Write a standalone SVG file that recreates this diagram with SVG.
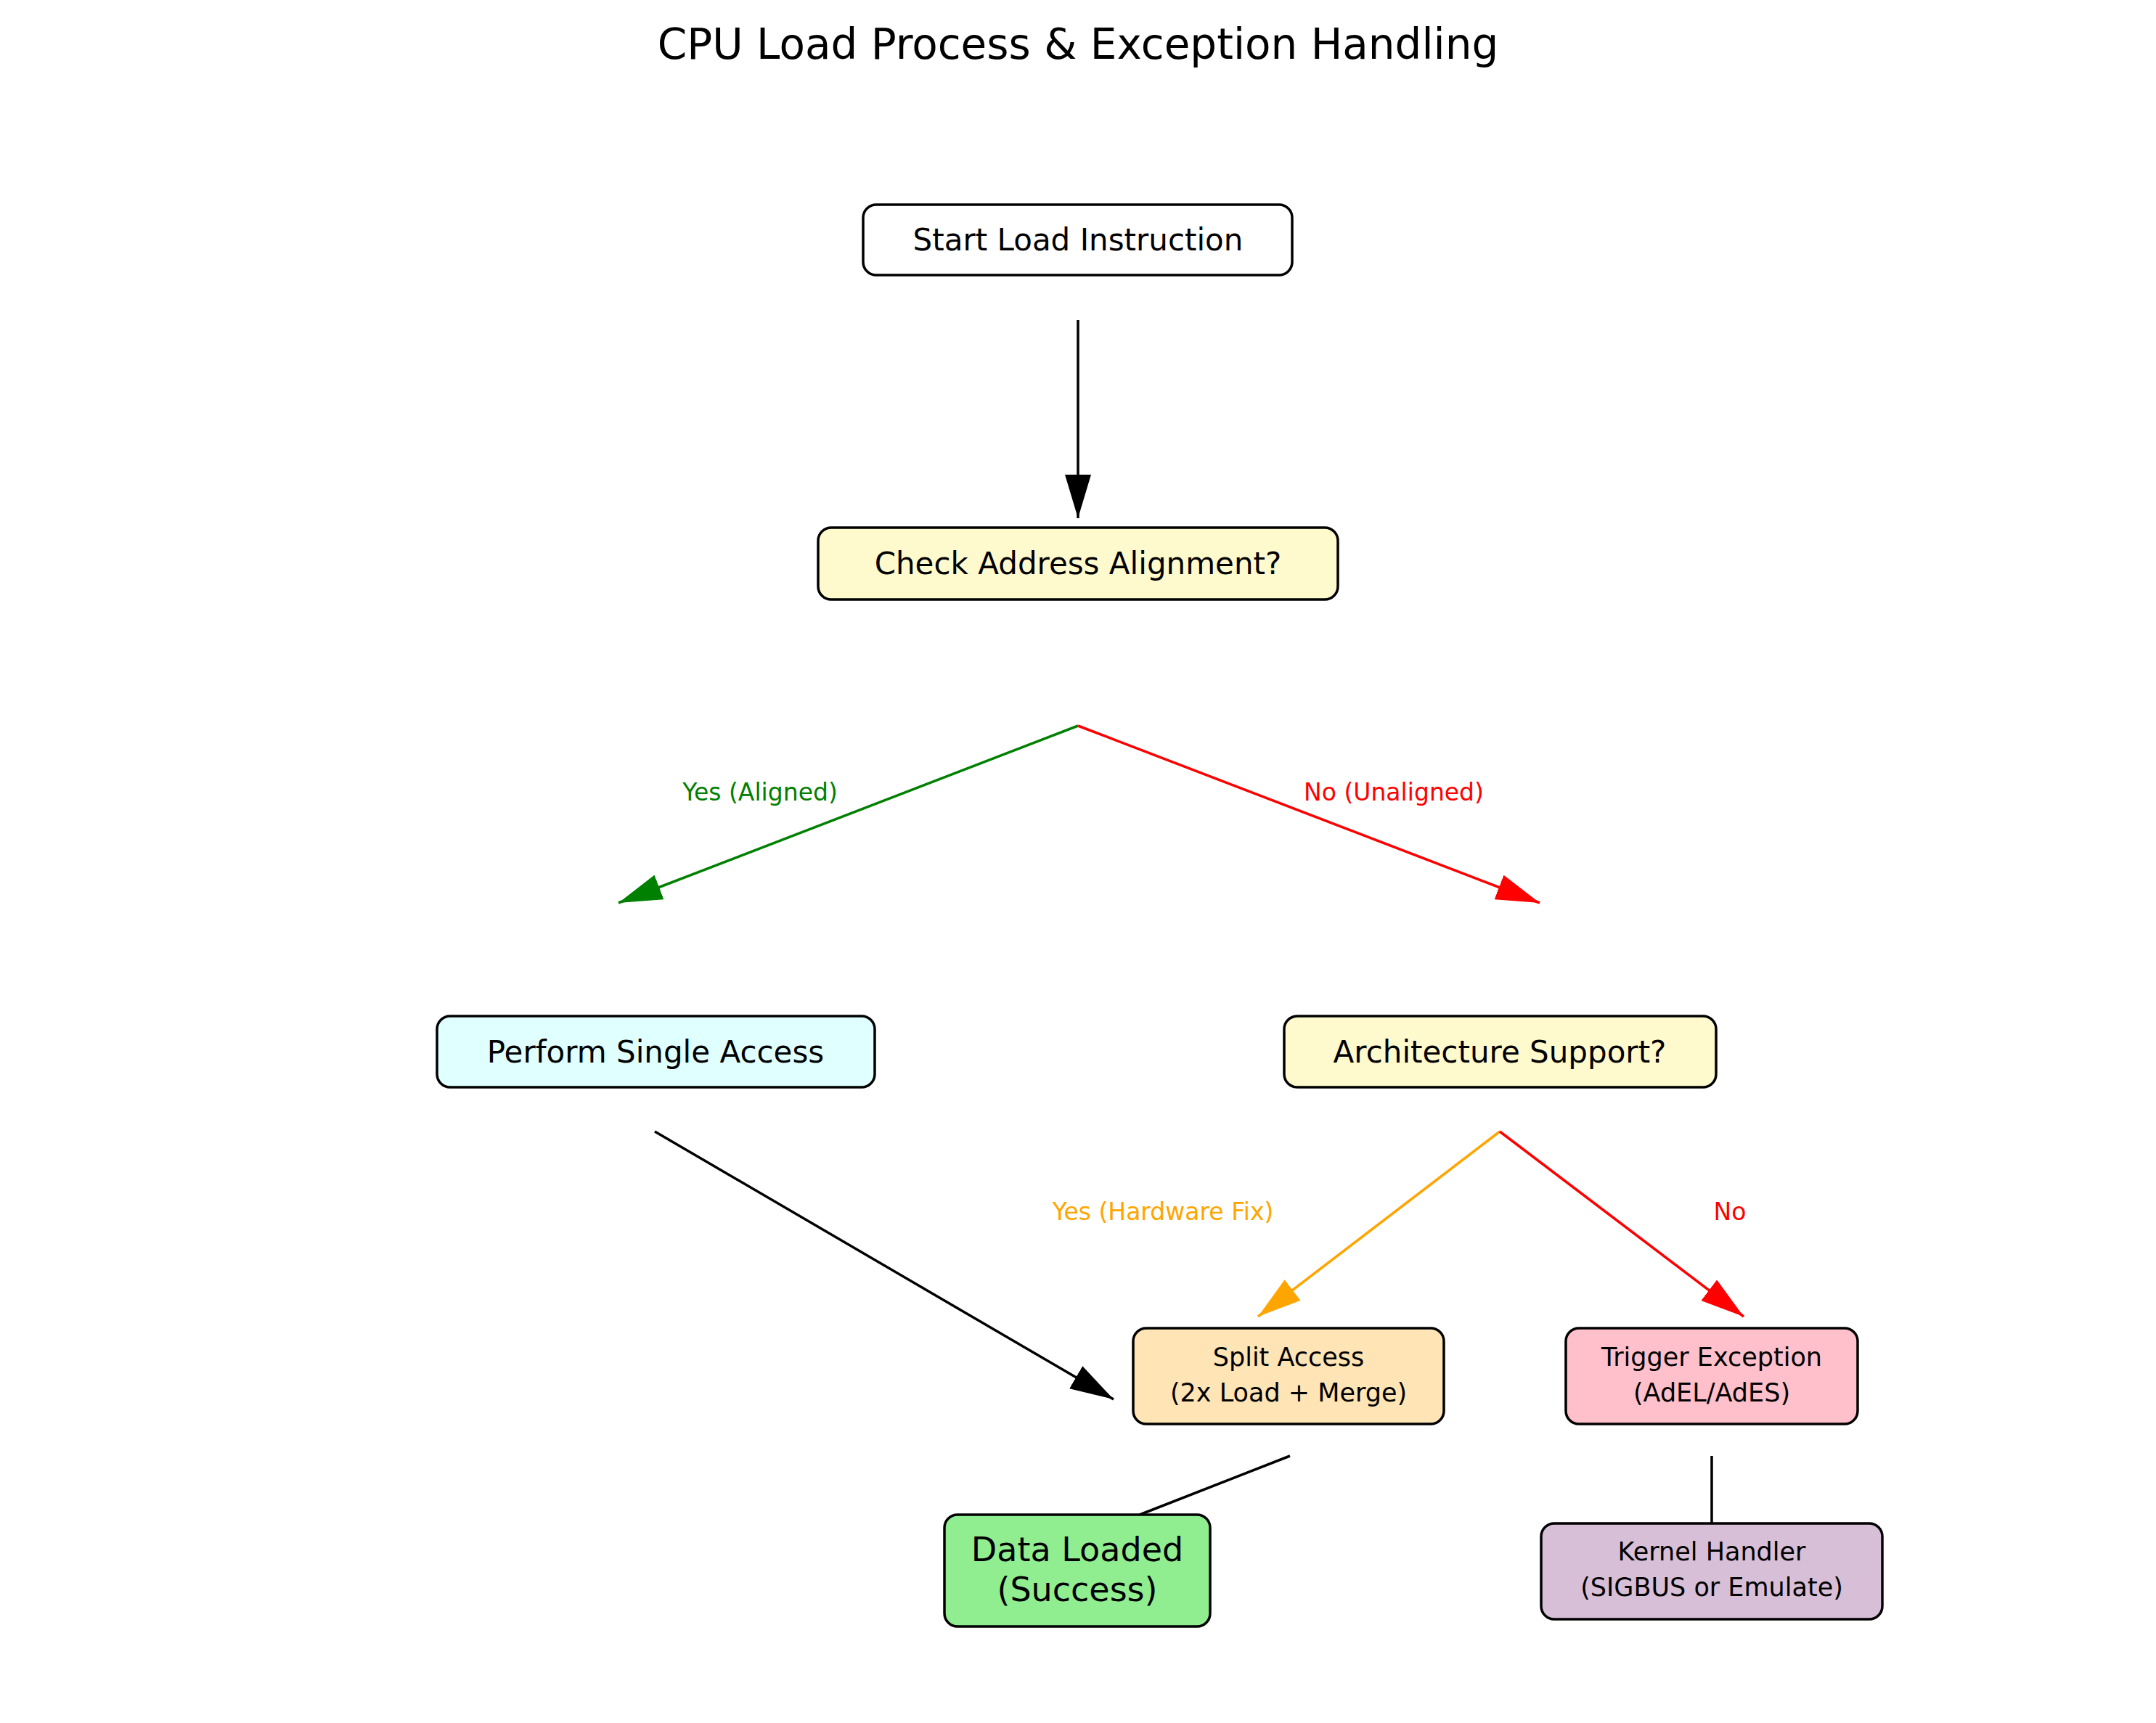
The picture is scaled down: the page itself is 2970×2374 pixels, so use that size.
<svg xmlns="http://www.w3.org/2000/svg" width="2970" height="2374" viewBox="0 0 2970 2374">
<style>
text{font-family:"DejaVu Sans",sans-serif;text-anchor:middle;dominant-baseline:central}
.n rect{stroke:#000;stroke-width:3.5}
.big{font-size:42px}
.sm{font-size:35px}
.lbl{font-size:33px}
.c{fill:none;stroke-width:3.5}
</style>
<defs>
<marker id="ak" viewBox="0 0 60 36" refX="60" refY="18" markerWidth="60" markerHeight="36" markerUnits="userSpaceOnUse" orient="auto"><path d="M0,0L60,18L0,36z" fill="#000"/></marker>
<marker id="ag" viewBox="0 0 60 36" refX="60" refY="18" markerWidth="60" markerHeight="36" markerUnits="userSpaceOnUse" orient="auto"><path d="M0,0L60,18L0,36z" fill="#008000"/></marker>
<marker id="ar" viewBox="0 0 60 36" refX="60" refY="18" markerWidth="60" markerHeight="36" markerUnits="userSpaceOnUse" orient="auto"><path d="M0,0L60,18L0,36z" fill="#ff0000"/></marker>
<marker id="ao" viewBox="0 0 60 36" refX="60" refY="18" markerWidth="60" markerHeight="36" markerUnits="userSpaceOnUse" orient="auto"><path d="M0,0L60,18L0,36z" fill="#ffa500"/></marker>
</defs>
<rect width="2970" height="2374" fill="#fff"/>
<text x="1485" y="61" style="font-size:58px">CPU Load Process &amp; Exception Handling</text>
<g id="connectors">
<path class="c" stroke="#000" d="M1485,441L1485,714" marker-end="url(#ak)"/>
<path class="c" stroke="#008000" d="M1485,1000L852,1244" marker-end="url(#ag)"/>
<path class="c" stroke="#ff0000" d="M1485,1000L2121,1244" marker-end="url(#ar)"/>
<text class="lbl" x="1047" y="1091" fill="#008000">Yes (Aligned)</text>
<text class="lbl" x="1920" y="1091" fill="#ff0000">No (Unaligned)</text>
<path class="c" stroke="#000" d="M902,1559L1534,1928" marker-end="url(#ak)"/>
<path class="c" stroke="#ffa500" d="M2066,1559L1733,1814" marker-end="url(#ao)"/>
<path class="c" stroke="#ff0000" d="M2066,1559L2402,1814" marker-end="url(#ar)"/>
<text class="lbl" x="1602" y="1669" fill="#ffa500">Yes (Hardware Fix)</text>
<text class="lbl" x="2383" y="1669" fill="#ff0000">No</text>
<path class="c" stroke="#000" d="M1777,2006L1570,2087"/>
<path class="c" stroke="#000" d="M2358,2006L2358,2099"/>
</g>
<g id="start" class="n"><rect x="1189" y="282" width="591" height="97" rx="18" fill="#fff"/><text class="big" x="1485" y="330">Start Load Instruction</text></g>
<g id="check" class="n"><rect x="1127" y="727" width="716" height="99" rx="18" fill="#fffacd"/><text class="big" x="1485" y="776">Check Address Alignment?</text></g>
<g id="single" class="n"><rect x="602" y="1400" width="603" height="98" rx="18" fill="#e0ffff"/><text class="big" x="903" y="1449">Perform Single Access</text></g>
<g id="arch" class="n"><rect x="1769" y="1400" width="595" height="98" rx="18" fill="#fffacd"/><text class="big" x="2066" y="1449">Architecture Support?</text></g>
<g id="split" class="n"><rect x="1561" y="1830" width="428" height="132" rx="18" fill="#ffe4b5"/><text class="sm" x="1775" y="1870">Split Access</text><text class="sm" x="1775" y="1919">(2x Load + Merge)</text></g>
<g id="trigger" class="n"><rect x="2157" y="1830" width="402" height="132" rx="18" fill="#ffc0cb"/><text class="sm" x="2358" y="1870">Trigger Exception</text><text class="sm" x="2358" y="1919">(AdEL/AdES)</text></g>
<g id="data" class="n"><rect x="1301" y="2087" width="366" height="154" rx="18" fill="#90ee90"/><text class="big" x="1484" y="2135" style="font-size:46px">Data Loaded</text><text class="big" x="1484" y="2190" style="font-size:46px">(Success)</text></g>
<g id="kernel" class="n"><rect x="2123" y="2099" width="470" height="132" rx="18" fill="#d8bfd8"/><text class="sm" x="2358" y="2138">Kernel Handler</text><text class="sm" x="2358" y="2187">(SIGBUS or Emulate)</text></g>
</svg>
